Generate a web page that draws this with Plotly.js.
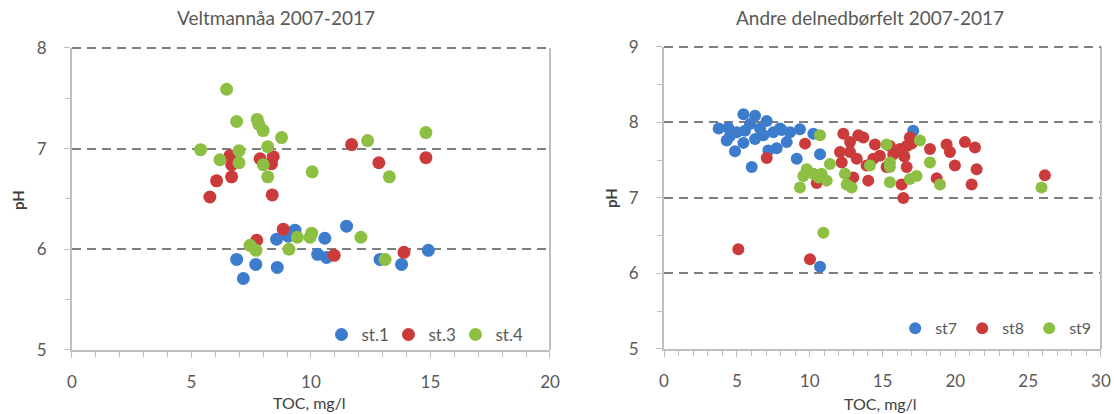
<!DOCTYPE html>
<html>
<head>
<meta charset="utf-8">
<script src="https://cdn.plot.ly/plotly-3.0.1.min.js"></script>
<style>html,body{margin:0;padding:0;background:#fff;}#chart{width:1114px;height:414px;}</style>
</head>
<body>
<div id="chart"></div>
<script>
// ---- Left chart: Veltmannåa 2007-2017 ----
const leftTitle = "Veltmannåa 2007-2017";
const st1_toc = [6.89, 7.17, 7.69, 8.59, 8.56, 9.05, 9.33, 10.28, 10.65, 10.58, 11.49, 12.89, 13.79, 14.91];
const st1_ph  = [5.90, 5.71, 5.85, 5.82, 6.10, 6.13, 6.19, 5.95, 5.92, 6.11, 6.23, 5.90, 5.85, 5.99];
const st3_toc = [5.77, 6.05, 6.68, 6.61, 6.68, 7.87, 8.42, 8.35, 8.38, 11.70, 12.84, 14.81, 7.73, 8.84, 10.97, 13.89];
const st3_ph  = [6.52, 6.68, 6.72, 6.93, 6.84, 6.90, 6.92, 6.85, 6.54, 7.04, 6.86, 6.91, 6.09, 6.20, 5.94, 5.97];
const st4_toc = [5.38, 6.47, 6.89, 6.19, 6.99, 6.99, 7.75, 7.82, 8.00, 8.77, 8.19, 8.00, 8.19, 10.05, 12.37, 14.81, 13.28, 7.45, 7.70, 9.08, 9.43, 9.96, 10.03, 12.09, 13.10];
const st4_ph  = [6.99, 7.59, 7.27, 6.89, 6.98, 6.86, 7.29, 7.24, 7.18, 7.11, 7.02, 6.84, 6.72, 6.77, 7.08, 7.16, 6.72, 6.04, 5.99, 6.00, 6.12, 6.12, 6.16, 6.12, 5.90];

// ---- Right chart: Andre delnedbørfelt 2007-2017 ----
const rightTitle = "Andre delnedbørfelt 2007-2017";
const st7_toc = [3.75, 5.45, 6.25, 7.05, 4.41, 4.53, 4.99, 5.56, 5.90, 6.59, 4.30, 4.87, 5.45, 6.25, 6.82, 7.50, 7.73, 6.02, 7.96, 8.65, 9.33, 8.42, 7.16, 9.11, 10.25, 10.71, 10.71, 17.11, 8.08];
const st7_ph  = [7.92, 8.11, 8.09, 8.02, 7.93, 7.82, 7.87, 7.89, 7.98, 7.92, 7.76, 7.62, 7.73, 7.78, 7.83, 7.87, 7.66, 7.41, 7.92, 7.87, 7.91, 7.74, 7.63, 7.52, 7.85, 7.58, 6.09, 7.89, 7.90];
const st8_toc = [5.10, 7.05, 9.68, 10.02, 10.48, 12.31, 13.34, 12.77, 12.08, 12.77, 12.20, 13.23, 14.48, 13.68, 12.99, 14.02, 15.51, 16.20, 16.66, 16.88, 14.82, 14.37, 15.74, 18.26, 19.40, 19.63, 20.66, 21.35, 13.91, 15.28, 16.66, 19.97, 21.46, 16.31, 18.72, 21.12, 16.43, 26.15, 16.50, 17.00];
const st8_ph  = [6.32, 7.53, 7.72, 6.19, 7.20, 7.85, 7.83, 7.74, 7.61, 7.61, 7.47, 7.52, 7.71, 7.80, 7.27, 7.23, 7.69, 7.65, 7.69, 7.80, 7.56, 7.52, 7.58, 7.65, 7.71, 7.61, 7.74, 7.67, 7.43, 7.41, 7.41, 7.43, 7.38, 7.18, 7.26, 7.18, 7.00, 7.30, 7.55, 7.72];
const st9_toc = [10.71, 9.80, 9.56, 9.33, 10.25, 10.82, 11.39, 11.17, 10.60, 12.42, 12.54, 12.88, 14.14, 15.28, 17.57, 15.51, 15.51, 18.26, 16.88, 17.34, 15.51, 18.95, 25.92, 10.94];
const st9_ph  = [7.83, 7.38, 7.29, 7.14, 7.32, 7.32, 7.45, 7.23, 7.27, 7.32, 7.18, 7.14, 7.43, 7.71, 7.76, 7.47, 7.41, 7.47, 7.25, 7.29, 7.21, 7.18, 7.14, 6.54];

const xTitle = "TOC, mg/l";
const yTitle = "pH";

const BLUE = '#3d7ccc', RED = '#cc3b3b', GREEN = '#8dbf43';
const FONT = 'Lato, "Open Sans", "Liberation Sans", sans-serif';

function tr(x, y, name, color, xa, ya, leg, size) {
  return {x: x, y: y, name: name, type: 'scatter', mode: 'markers',
    xaxis: xa, yaxis: ya, legend: leg,
    marker: {color: color, size: size, line: {width: 0}}, hoverinfo: 'x+y'};
}

const data = [
  tr(st1_toc, st1_ph, 'st.1', BLUE, 'x', 'y', 'legend', 13),
  tr(st3_toc, st3_ph, 'st.3', RED, 'x', 'y', 'legend', 13),
  tr(st4_toc, st4_ph, 'st.4', GREEN, 'x', 'y', 'legend', 13),
  tr(st7_toc, st7_ph, 'st7', BLUE, 'x2', 'y2', 'legend2', 12),
  tr(st8_toc, st8_ph, 'st8', RED, 'x2', 'y2', 'legend2', 12),
  tr(st9_toc, st9_ph, 'st9', GREEN, 'x2', 'y2', 'legend2', 12)
];

const AX = '#bfbfbf';
const GRID = '#7f7f7f';
function xax(domain, range, anchor) {
  return {domain: domain, range: range, anchor: anchor, dtick: 5, tick0: 0,
    ticks: 'outside', ticklen: 6, tickwidth: 1, tickcolor: AX,
    showline: true, linecolor: AX, linewidth: 2, showgrid: false, zeroline: false,
    minor: {dtick: 1, ticks: 'outside', ticklen: 5, tickcolor: AX, showgrid: false},
    tickfont: {family: FONT, size: 17, color: '#595959'}, ticklabelstandoff: 10,
    fixedrange: true};
}
function yax(domain, range, anchor) {
  return {domain: domain, range: range, anchor: anchor, dtick: 1, tick0: 0,
    ticks: 'outside', ticklen: 6, tickwidth: 1, tickcolor: AX,
    showline: true, linecolor: AX, linewidth: 2, zeroline: false,
    showgrid: true, gridcolor: GRID, gridwidth: 2, griddash: '9px,6px',
    minor: {dtick: 0.5, ticks: 'outside', ticklen: 5, tickcolor: AX, showgrid: false},
    tickfont: {family: FONT, size: 17, color: '#595959'}, ticklabelstandoff: 14,
    fixedrange: true};
}

const layout = {
  width: 1114, height: 414,
  margin: {l: 0, r: 0, t: 0, b: 0},
  paper_bgcolor: '#fff', plot_bgcolor: '#fff',
  font: {family: FONT, color: '#595959'},
  showlegend: true,
  xaxis: xax([0.0646, 0.4937], [0, 20], 'y'),
  yaxis: yax([0.1546, 0.8841], [5, 8], 'x'),
  xaxis2: xax([0.5961, 0.9883], [0, 30], 'y2'),
  yaxis2: yax([0.1570, 0.8865], [5, 9], 'x2'),
  legend: {orientation: 'h', x: 0.469, y: 0.191, xanchor: 'right', yanchor: 'middle',
    entrywidth: 22, entrywidthmode: 'pixels', bgcolor: 'rgba(0,0,0,0)',
    font: {family: FONT, size: 17, color: '#595959'}},
  legend2: {orientation: 'h', x: 0.984, y: 0.207, xanchor: 'right', yanchor: 'middle',
    entrywidth: 22, entrywidthmode: 'pixels', bgcolor: 'rgba(0,0,0,0)',
    font: {family: FONT, size: 16, color: '#595959'}},
  shapes: [
    {type: 'line', xref: 'x domain', yref: 'y domain', x0: 1, x1: 1, y0: 0, y1: 1,
      line: {color: AX, width: 2}},
    {type: 'line', xref: 'x2 domain', yref: 'y2 domain', x0: 1, x1: 1, y0: 0, y1: 1,
      line: {color: AX, width: 2}},
    {type: 'line', xref: 'x domain', yref: 'y domain', x0: 0, x1: 1, y0: 1, y1: 1,
      line: {color: GRID, width: 2, dash: '9px,6px'}},
    {type: 'line', xref: 'x2 domain', yref: 'y2 domain', x0: 0, x1: 1, y0: 1, y1: 1,
      line: {color: GRID, width: 2, dash: '9px,6px'}}
  ],
  annotations: [
    {text: leftTitle, xref: 'paper', yref: 'paper', x: 276/1114, y: 1 - 18/414,
      xanchor: 'center', yanchor: 'middle', showarrow: false,
      font: {family: FONT, size: 19, color: '#595959'}},
    {text: rightTitle, xref: 'paper', yref: 'paper', x: 870/1114, y: 1 - 18/414,
      xanchor: 'center', yanchor: 'middle', showarrow: false,
      font: {family: FONT, size: 19, color: '#595959'}},
    {text: xTitle, xref: 'paper', yref: 'paper', x: 309/1114, y: 1 - 402/414,
      xanchor: 'center', yanchor: 'middle', showarrow: false,
      font: {family: FONT, size: 16, color: '#404040'}},
    {text: xTitle, xref: 'paper', yref: 'paper', x: 880/1114, y: 1 - 403/414,
      xanchor: 'center', yanchor: 'middle', showarrow: false,
      font: {family: FONT, size: 16, color: '#404040'}},
    {text: '<b>' + yTitle + '</b>', xref: 'paper', yref: 'paper', x: 18/1114, y: 1 - 200/414,
      xanchor: 'center', yanchor: 'middle', showarrow: false, textangle: -90,
      font: {family: FONT, size: 15, color: '#404040'}},
    {text: '<b>' + yTitle + '</b>', xref: 'paper', yref: 'paper', x: 611/1114, y: 1 - 198/414,
      xanchor: 'center', yanchor: 'middle', showarrow: false, textangle: -90,
      font: {family: FONT, size: 15, color: '#404040'}}
  ]
};

Plotly.newPlot('chart', data, layout, {displayModeBar: false, staticPlot: true});
</script>
</body>
</html>
